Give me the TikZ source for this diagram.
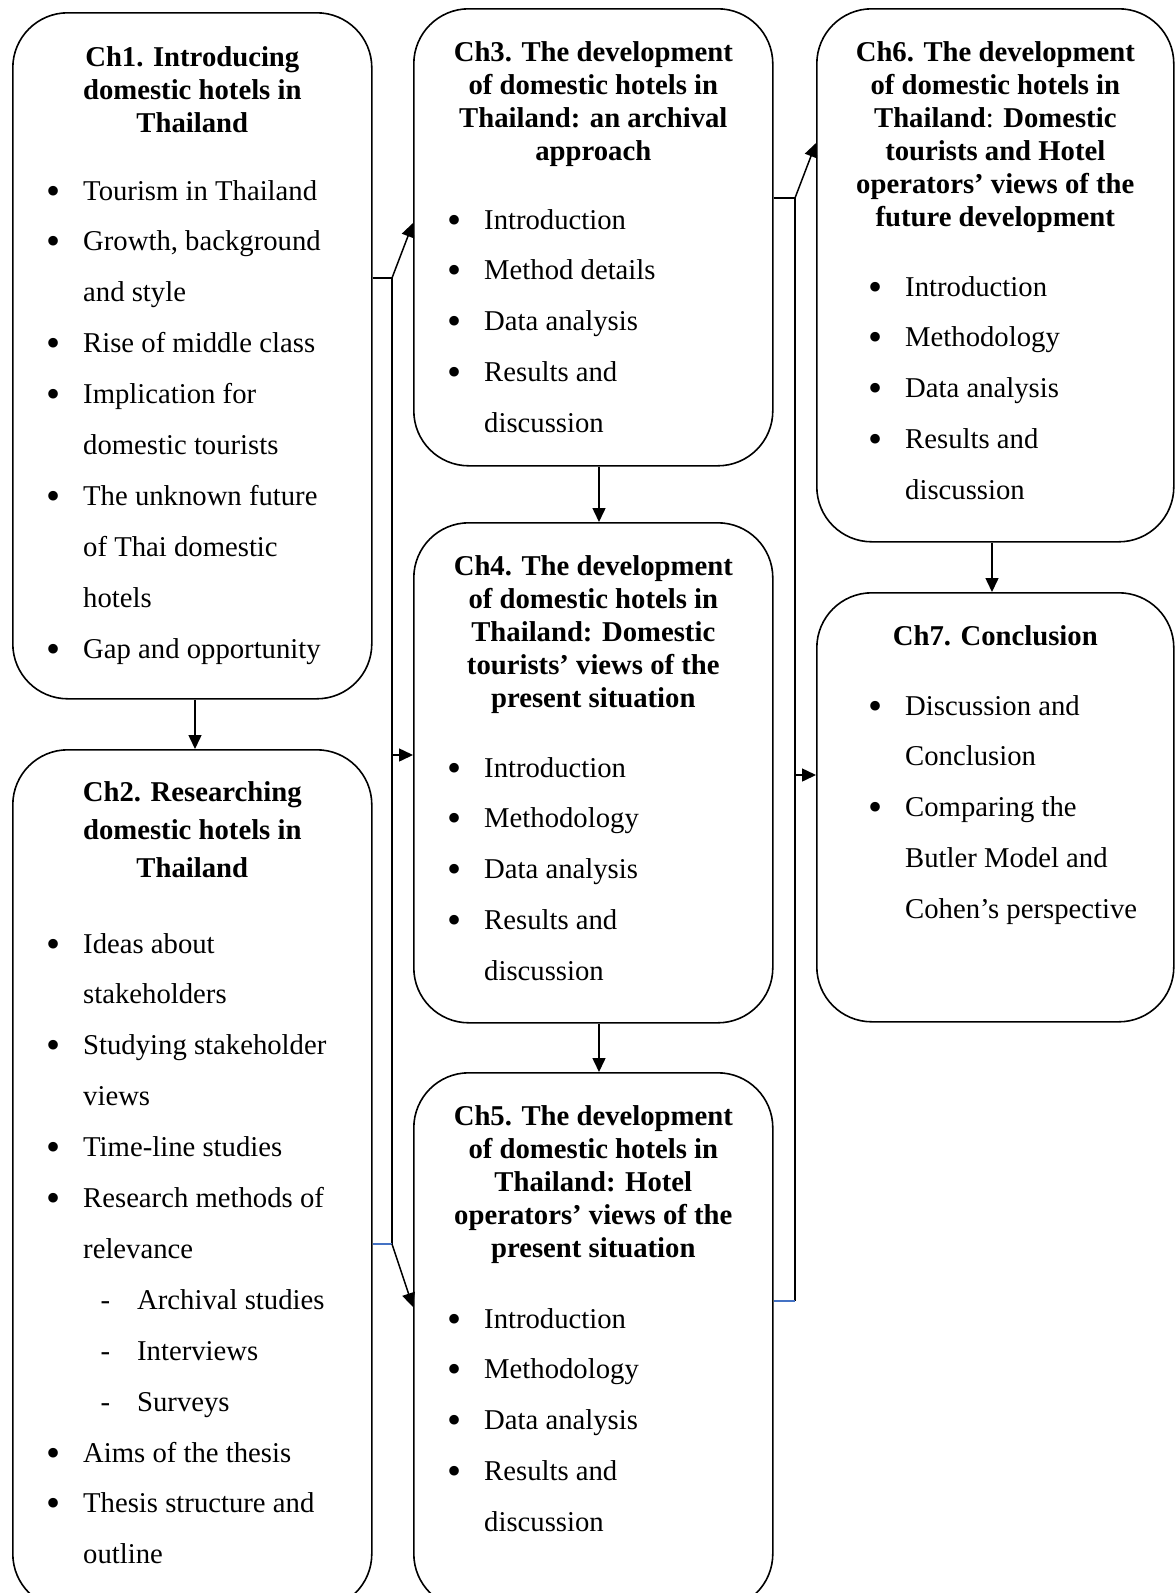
\documentclass[tikz,border=0pt]{standalone}
\usepackage{fontspec}
\setmainfont{Liberation Serif}
\usetikzlibrary{arrows.meta,calc}

\definecolor{linkblue}{RGB}{68,114,196}

\newcommand\bul[1]{\llap{\raisebox{-4pt}{\scalebox{1.4}{\textbullet}}\hspace{23pt}}#1}
\newcommand\subbul[1]{\hspace{54pt}\llap{-\hspace{27pt}}#1}

\tikzset{
	chbox/.style={draw,rounded corners=55pt,line width=1.6pt,inner sep=0pt,anchor=north west},
	chtitle/.style={inner sep=0pt,anchor=base,font=\bfseries\fontsize{28.7}{33}\selectfont},
	chlist/.style={inner sep=0pt,anchor=base west,font=\fontsize{28.7}{50.9}\selectfont},
	link/.style={line width=1.5pt},
	bluelink/.style={line width=1.2pt,color=linkblue},
}

\begin{document}
\begin{tikzpicture}[>={Triangle[length=14pt,width=13pt]},x=1pt,y=-1pt]

\useasboundingbox (0,0) rectangle (1175,1593);

\node[chbox,minimum width=359pt,minimum height=686pt] (ch1) at (12,12) {};
\node[chbox,minimum width=359pt,minimum height=859pt] (ch2) at (12,749) {};
\node[chbox,minimum width=359pt,minimum height=457pt] (ch3) at (413,8) {};
\node[chbox,minimum width=359pt,minimum height=500pt] (ch4) at (413,522) {};
\node[chbox,minimum width=359pt,minimum height=536pt] (ch5) at (413,1072) {};
\node[chbox,minimum width=357pt,minimum height=533pt] (ch6) at (816,8) {};
\node[chbox,minimum width=357pt,minimum height=429pt] (ch7) at (816,592) {};

% titles
\node[chtitle] (t1) at (ch1.north |- 0,66) {\begin{tabular}[t]{@{}c@{}}
	Ch1. Introducing\\domestic hotels in\\Thailand\end{tabular}};
\node[chtitle,font=\bfseries\fontsize{28.7}{38}\selectfont] (t2) at (ch2.north |- 0,801) {\begin{tabular}[t]{@{}c@{}}
	Ch2. Researching\\domestic hotels in\\Thailand\end{tabular}};
\node[chtitle] (t3) at (ch3.north |- 0,61) {\begin{tabular}[t]{@{}c@{}}
	Ch3. The development\\of domestic hotels in\\Thailand: an archival\\approach\end{tabular}};
\node[chtitle] (t4) at (ch4.north |- 0,575) {\begin{tabular}[t]{@{}c@{}}
	Ch4. The development\\of domestic hotels in\\Thailand: Domestic\\tourists’ views of the\\present situation\end{tabular}};
\node[chtitle] (t5) at (ch5.north |- 0,1125) {\begin{tabular}[t]{@{}c@{}}
	Ch5. The development\\of domestic hotels in\\Thailand: Hotel\\operators’ views of the\\present situation\end{tabular}};
\node[chtitle] (t6) at (ch6.north |- 0,61) {\begin{tabular}[t]{@{}c@{}}
	Ch6. The development\\of domestic hotels in\\Thailand\textmd{:} Domestic\\tourists and Hotel\\operators’ views of the\\future development\end{tabular}};
\node[chtitle] (t7) at (ch7.north |- 0,645) {Ch7. Conclusion};

% lists
\node[chlist] (l1) at (83,200) {\begin{tabular}[t]{@{}l@{}}
	\bul{Tourism in Thailand}\\
	\bul{Growth, background}\\
	and style\\
	\bul{Rise of middle class}\\
	\bul{Implication for}\\
	domestic tourists\\
	\bul{The unknown future}\\
	of Thai domestic\\
	hotels\\
	\bul{Gap and opportunity}\end{tabular}};
\node[chlist] (l2) at (83,953) {\begin{tabular}[t]{@{}l@{}}
	\bul{Ideas about}\\
	stakeholders\\
	\bul{Studying stakeholder}\\
	views\\
	\bul{Time-line studies}\\
	\bul{Research methods of}\\
	relevance\\
	\subbul{Archival studies}\\
	\subbul{Interviews}\\
	\subbul{Surveys}\\
	\bul{Aims of the thesis}\\
	\bul{Thesis structure and}\\
	outline\end{tabular}};
\node[chlist] (l3) at (484,229) {\begin{tabular}[t]{@{}l@{}}
	\bul{Introduction}\\
	\bul{Method details}\\
	\bul{Data analysis}\\
	\bul{Results and}\\
	discussion\end{tabular}};
\node[chlist] (l4) at (484,777) {\begin{tabular}[t]{@{}l@{}}
	\bul{Introduction}\\
	\bul{Methodology}\\
	\bul{Data analysis}\\
	\bul{Results and}\\
	discussion\end{tabular}};
\node[chlist] (l5) at (484,1328) {\begin{tabular}[t]{@{}l@{}}
	\bul{Introduction}\\
	\bul{Methodology}\\
	\bul{Data analysis}\\
	\bul{Results and}\\
	discussion\end{tabular}};
\node[chlist] (l6) at (905,296) {\begin{tabular}[t]{@{}l@{}}
	\bul{Introduction}\\
	\bul{Methodology}\\
	\bul{Data analysis}\\
	\bul{Results and}\\
	discussion\end{tabular}};
\node[chlist] (l7) at (905,715) {\begin{tabular}[t]{@{}l@{}}
	\bul{Discussion and}\\
	Conclusion\\
	\bul{Comparing the}\\
	Butler Model and\\
	Cohen’s perspective\end{tabular}};

% connectors
\draw[link,->] (ch1.south -| 195,0) -- (ch2.north -| 195,0);
\draw[link,->] (ch3.south -| 599,0) -- (ch4.north -| 599,0);
\draw[link,->] (ch4.south -| 599,0) -- (ch5.north -| 599,0);
\draw[link,->] (ch6.south -| 992,0) -- (ch7.north -| 992,0);

\coordinate (jl) at (392,278);
\coordinate (jl2) at (392,1244);
\coordinate (jr) at (795,198);
\coordinate (jr2) at (795,1301);

\draw[link] (ch1.east |- jl) -- (jl) -- (jl2);
\draw[link,->] (jl) -- (ch3.west |- 0,223);
\draw[link,->] (jl |- 0,755) -- (ch4.west |- 0,755);
\draw[bluelink] (ch2.east |- jl2) -- (jl2);
\draw[link,->] (jl2) -- (ch5.west |- 0,1307);

\draw[link] (ch3.east |- jr) -- (jr) -- (jr2);
\draw[link,->] (jr) -- (ch6.west |- 0,143);
\draw[link,->] (jr |- 0,775) -- (ch7.west |- 0,775);
\draw[bluelink] (ch5.east |- jr2) -- (jr2);

\end{tikzpicture}
\end{document}
